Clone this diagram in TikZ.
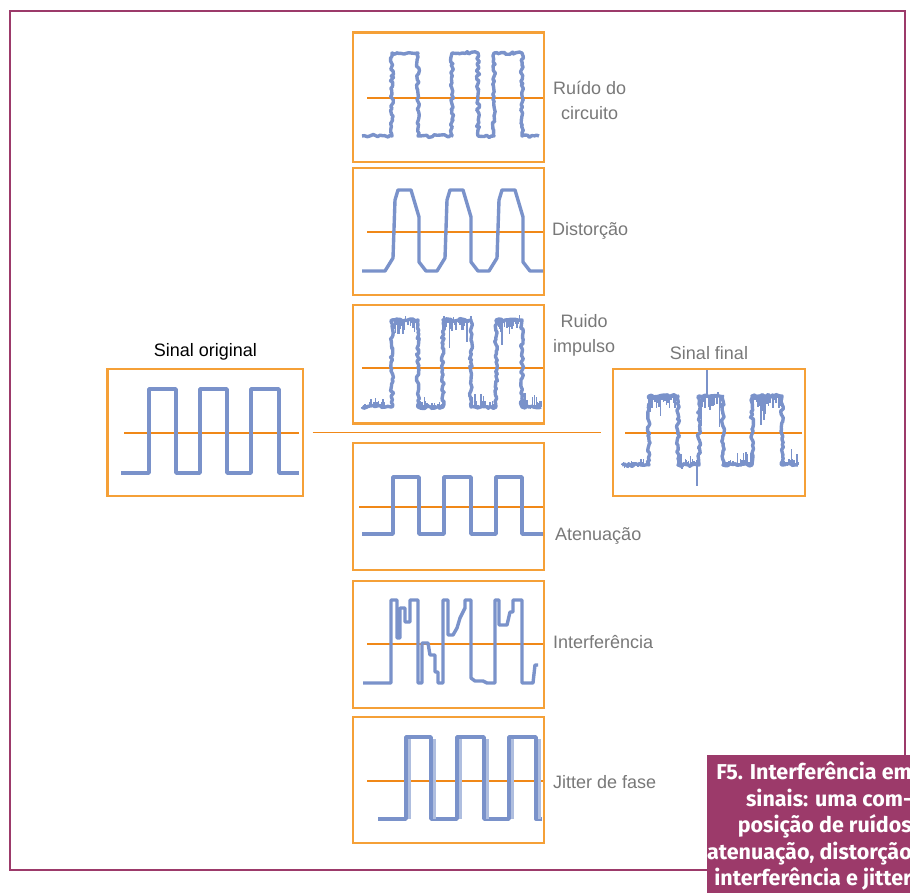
\documentclass[tikz,border=0pt]{standalone}
\usepackage{fontspec}
\setmainfont{Liberation Sans}
\newfontfamily\legendafonte{Fira Sans}
\usetikzlibrary{positioning,decorations.pathmorphing}

\definecolor{laranja}{RGB}{245,160,55}
\definecolor{laranjaescuro}{RGB}{240,136,24}
\definecolor{azulsinal}{RGB}{122,146,202}
\definecolor{vinho}{RGB}{156,58,106}
\definecolor{cinzatexto}{RGB}{120,120,120}

\tikzset{
    quadro/.style={draw=laranja, line width=1.4pt, inner sep=0pt},
    meio/.style={draw=laranjaescuro, line width=1.7pt},
    onda/.style={draw=azulsinal, line width=3.4pt, line join=round},
    tremido/.style={onda, decorate, decoration={random steps, segment length=2.5pt, amplitude=1.5pt}},
    faisca/.style={draw=azulsinal, line width=1.5pt},
    rotulo/.style={text=cinzatexto, font=\fontsize{18}{25}\selectfont, align=center, inner sep=0pt},
    moldura/.style={draw=vinho, line width=2pt},
    legenda/.style={text=white, font=\legendafonte\bfseries\fontsize{21.5}{26.5}\selectfont, align=right, inner sep=0pt}
}

\begin{document}
\begin{tikzpicture}[x=1pt, y=-1pt]
    \useasboundingbox (0,0) rectangle (910,893);
    \clip (0,0) rectangle (910,893);
    \path node[quadro, minimum width=191, minimum height=129] (circ) at (448.5,97.5) {}
        node[quadro, minimum width=191, minimum height=127] (dist) at (448.5,231.5) {}
        node[quadro, minimum width=191, minimum height=118] (impul) at (448.5,364) {}
        node[quadro, minimum width=191, minimum height=127] (aten) at (448.5,506.5) {}
        node[quadro, minimum width=191, minimum height=127] (interf) at (448.5,644.5) {}
        node[quadro, minimum width=191, minimum height=126] (jitter) at (448.5,780) {}
        node[quadro, minimum width=195, minimum height=127] (orig) at (205.5,432.5) {}
        node[quadro, minimum width=192, minimum height=127] (final) at (709,432.5) {};
    \draw[draw=laranja, line width=2.6pt] (circ.north west) -- (circ.north east);
    \draw[draw=laranja, line width=2.6pt] (impul.south west) -- (impul.south east);
    \draw[draw=laranja, line width=2.6pt] (orig.north west) -- (orig.south west);

    \node[rotulo, anchor=west] (lcirc) at (553,100.5) {Ruído do\\circuito};
    \node[rotulo, anchor=west] (ldist) at (552,231) {Distorção};
    \node[rotulo, anchor=west] (limpul) at (553,335.5) {Ruido\\impulso};
    \node[rotulo, anchor=west] (laten) at (555,536) {Atenuação};
    \node[rotulo, anchor=west] (linterf) at (553,642) {Interferência};
    \node[rotulo, anchor=west] (ljitter) at (553,782) {Jitter de fase};
    \node[rotulo, text=black, above=8pt of orig] (lorig) {Sinal original};
    \node[rotulo, above=8pt of final] (lfinal) {Sinal final};

    \draw[meio] ([xshift=9]orig.east) -- ([xshift=-11]final.west);

    \draw[meio] (124,433) -- (299,433);
    \draw[meio] (625,433) -- (802,433);
    \draw[meio] (367,98) -- (543,98);
    \draw[meio] (367,232) -- (543,232);
    \draw[meio] (362,368) -- (543,368);
    \draw[meio] (359,507) -- (543,507);
    \draw[meio, line width=2.4pt] (367,644) -- (543,644);
    \draw[meio] (367,781) -- (543,781);

    \draw[onda] (121,473) -| (149,389) -| (176,473) -| (200,389) -| (227,473) -| (251,389) -| (279,473) -- (299,473);

    \pgfmathsetseed{7}
    \draw[tremido] (362,136) -| (392,53) -| (418,136) -| (452,53) -| (478,136) -| (494,53) -| (522,136) -- (539,136);

    \draw[onda] (362,271) foreach \r in {385,437,489} { -- (\r,271) -- (\r+8,258) -- (\r+10,200) -- (\r+13,190) -- (\r+26,190) -- (\r+34,217) -- (\r+34,262) -- (\r+41,271) } -- (543,271);

    \pgfmathsetseed{21}
    \draw[tremido] (362,407) -| (392,320) -| (418,407) -| (443,320) -| (471,407) -| (496,320) -| (522,407) -- (541,407);
    \foreach \a/\b/\n/\d in {393/418/320/1, 444/471/320/1, 497/522/320/1, 362/392/407/-0.45, 418/443/407/-0.45, 471/496/407/-0.45, 522/541/407/-0.45}
        \foreach \i in {0,...,20} {
            \pgfmathsetmacro\x{\a+(\b-\a)*\i/20}
            \pgfmathsetmacro\h{\d*(rnd*14 + 26*(rnd>0.8)*rnd - 9*rnd*(rnd>0.75))}
            \draw[faisca] (\x,\n) -- ++(0,\h);
        }

    \draw[onda] (362,534) -| (393,477) -| (419,534) -| (444,477) -| (471,534) -| (496,477) -| (522,534) -- (543,534);

    \draw[onda] (363,683) -- (391,683) -- (391,600) -- (397,600) -- (397,638) -- (400,638) -- (400,608) -- (405,608) -- (405,622) -- (410,622) -- (410,600) -- (418,600) -- (418,683) -- (422,683) -- (422,643) -- (428,643) -- (430,655) -- (435,655) -- (435,672) -- (438,672) -- (438,683) -- (443,683)
        -- (443,600) -- (448,600) -- (448,635) -- (453,635) -- (457,628) -- (460,618) -- (465,608) -- (465,600) -- (471,600) -- (471,678) -- (475,681) -- (483,681) -- (487,683) -- (495,683)
        -- (495,600) -- (499,600) -- (499,625) -- (507,625) -- (510,612) -- (513,612) -- (513,600) -- (522,600) -- (522,683) -- (533,683) -- (535,665) -- (538,665);

    \draw[onda] (378,819) -| (406,737) -| (431,819) -| (457,737) -| (484,819) -| (509,737) -| (536,819) -- (542,819);
    \foreach \x in {406,431,457,484,509,536}
        \draw[onda, draw=azulsinal!60, line width=2.6pt] (\x+3.5,739) -- (\x+3.5,819);

    \pgfmathsetseed{33}
    \draw[tremido] (622,465) -| (649,396) -| (678,465) -| (699,396) -| (723,465) -| (752,396) -| (782,465) -- (798,465);
    \foreach \a/\b/\n/\d in {649/678/396/1, 699/723/396/1, 752/782/396/1, 622/649/465/-0.45, 678/699/465/-0.45, 723/752/465/-0.45, 782/798/465/-0.45}
        \foreach \i in {0,...,20} {
            \pgfmathsetmacro\x{\a+(\b-\a)*\i/20}
            \pgfmathsetmacro\h{\d*(rnd*14 + 24*(rnd>0.8)*rnd - 9*rnd*(rnd>0.75))}
            \draw[faisca] (\x,\n) -- ++(0,\h);
        }
    \draw[faisca] (707,398) -- (707,370);
    \draw[faisca] (697,462) -- (697,486);

    \fill[vinho] (707,755) rectangle (915,893);
    \node[legenda, anchor=north east] (leg) at (912,762) {F5. Interferência em\\sinais: uma com-\\posição de ruídos\\atenuação, distorção\\interferência e jitter};
    \draw[moldura] (707,870) -- (10,870) -- (10,11) -- (905,11) -- (905,755);
\end{tikzpicture}
\end{document}
